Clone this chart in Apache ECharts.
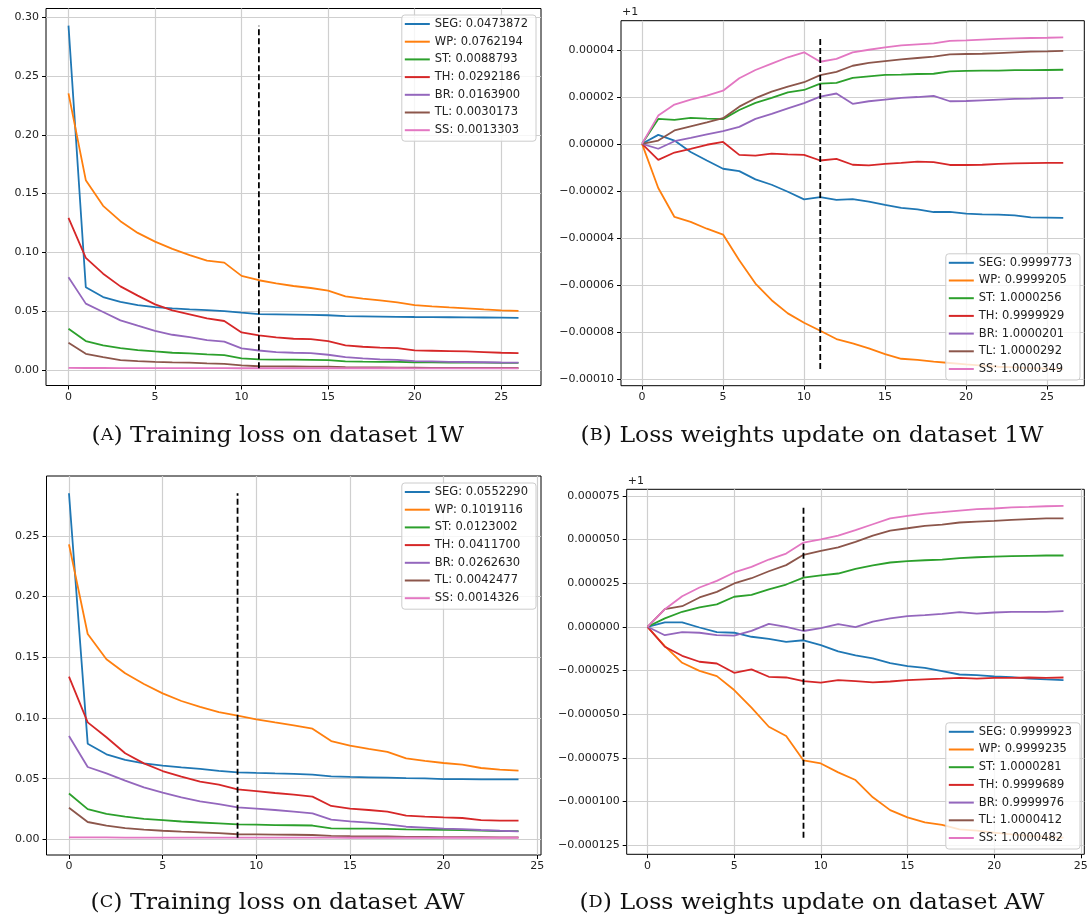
<!DOCTYPE html>
<html>
<head>
<meta charset="utf-8">
<title>Training loss and loss weights</title>
<script src="https://cdn.jsdelivr.net/npm/echarts@6/dist/echarts.min.js"></script>
<style>
  html, body { margin: 0; padding: 0; background: #fff; }
  #chart { width: 1087px; height: 923px; }
</style>
</head>
<body>
<div id="chart"></div>
<script>
// epochs
const epochs1W = [0, 1, 2, 3, 4, 5, 6, 7, 8, 9, 10, 11, 12, 13, 14, 15, 16, 17, 18, 19, 20, 21, 22, 23, 24, 25, 26];
const epochsAW = [0, 1, 2, 3, 4, 5, 6, 7, 8, 9, 10, 11, 12, 13, 14, 15, 16, 17, 18, 19, 20, 21, 22, 23, 24];
const switch1W = 11; // dashed line
const switchAW = 9;

const tasks = ['SEG', 'WP', 'ST', 'TH', 'BR', 'TL', 'SS'];
const colors = ['#1f77b4', '#ff7f0e', '#2ca02c', '#d62728', '#9467bd', '#8c564b', '#e377c2'];

// (A) training loss, dataset 1W
const lossSEG_1W = [0.2929, 0.0702, 0.0619, 0.0577, 0.0551, 0.0534, 0.0523, 0.0514, 0.0508, 0.0500, 0.0486, 0.0474, 0.0472, 0.0470, 0.0467, 0.0464, 0.0457, 0.0455, 0.0453, 0.0451, 0.0449, 0.0448, 0.0447, 0.0446, 0.0445, 0.0444, 0.0442];
const lossWP_1W  = [0.2353, 0.1614, 0.1395, 0.1265, 0.1165, 0.1091, 0.1029, 0.0975, 0.0929, 0.0912, 0.0799, 0.0762, 0.0736, 0.0713, 0.0696, 0.0673, 0.0625, 0.0605, 0.0591, 0.0574, 0.0551, 0.0540, 0.0531, 0.0523, 0.0514, 0.0506, 0.0501];
const lossST_1W  = [0.0350, 0.0244, 0.0207, 0.0185, 0.0168, 0.0156, 0.0145, 0.0139, 0.0131, 0.0125, 0.0097, 0.0089, 0.0087, 0.0086, 0.0084, 0.0082, 0.0071, 0.0069, 0.0068, 0.0067, 0.0064, 0.0063, 0.0062, 0.0061, 0.0060, 0.0059, 0.0058];
const lossTH_1W  = [0.1293, 0.0952, 0.0818, 0.0710, 0.0631, 0.0557, 0.0506, 0.0472, 0.0438, 0.0415, 0.0318, 0.0292, 0.0276, 0.0264, 0.0261, 0.0244, 0.0207, 0.0196, 0.0188, 0.0185, 0.0165, 0.0162, 0.0159, 0.0156, 0.0151, 0.0145, 0.0142];
const lossBR_1W  = [0.0787, 0.0563, 0.0492, 0.0420, 0.0375, 0.0332, 0.0298, 0.0278, 0.0253, 0.0239, 0.0182, 0.0164, 0.0151, 0.0145, 0.0142, 0.0128, 0.0108, 0.0097, 0.0088, 0.0085, 0.0074, 0.0071, 0.0068, 0.0066, 0.0064, 0.0062, 0.0061];
const lossTL_1W  = [0.0230, 0.0136, 0.0108, 0.0082, 0.0074, 0.0068, 0.0063, 0.0060, 0.0054, 0.0051, 0.0037, 0.0030, 0.0029, 0.0028, 0.0027, 0.0026, 0.0022, 0.0021, 0.0020, 0.0019, 0.0018, 0.0017, 0.0017, 0.0016, 0.0016, 0.0015, 0.0015];
const lossSS_1W  = [0.0016, 0.0015, 0.0015, 0.0014, 0.0014, 0.0014, 0.0014, 0.0014, 0.0014, 0.0014, 0.0013, 0.0013, 0.0013, 0.0013, 0.0013, 0.0013, 0.0013, 0.0013, 0.0013, 0.0013, 0.0012, 0.0012, 0.0012, 0.0012, 0.0012, 0.0012, 0.0012];
const legendLoss1W = ['SEG: 0.0473872', 'WP: 0.0762194', 'ST: 0.0088793', 'TH: 0.0292186', 'BR: 0.0163900', 'TL: 0.0030173', 'SS: 0.0013303'];

// (B) loss weights, dataset 1W -- (weight - 1) in units of 1e-6
const wSEG_1W = [0, 3.8, 1.4, -3.5, -7.1, -10.6, -11.6, -15.1, -17.4, -20.4, -23.6, -22.7, -23.8, -23.5, -24.6, -26.0, -27.2, -27.9, -29.0, -28.9, -29.7, -30.0, -30.1, -30.4, -31.3, -31.4, -31.5];
const wWP_1W  = [0, -18.8, -31.1, -33.2, -36.1, -38.6, -49.5, -59.4, -66.5, -72.1, -76.1, -79.5, -83.0, -84.9, -87.0, -89.4, -91.4, -91.9, -92.6, -93.2, -93.8, -94.3, -94.8, -95.1, -95.4, -95.6, -95.8];
const wST_1W  = [0, 10.6, 10.2, 11.0, 10.7, 10.5, 14.4, 17.4, 19.5, 21.9, 22.9, 25.6, 25.9, 28.0, 28.7, 29.3, 29.4, 29.7, 29.8, 30.8, 31.0, 31.1, 31.1, 31.3, 31.3, 31.4, 31.5];
const wTH_1W  = [0, -6.8, -3.7, -2.1, -0.4, 0.8, -4.7, -5.0, -4.2, -4.5, -4.7, -7.1, -6.4, -8.9, -9.2, -8.5, -8.1, -7.6, -7.8, -9.0, -9.0, -8.9, -8.5, -8.3, -8.2, -8.1, -8.1];
const wBR_1W  = [0, -2.1, 1.1, 2.5, 4.0, 5.4, 7.2, 10.6, 12.7, 15.1, 17.3, 20.1, 21.4, 17.0, 18.1, 18.8, 19.5, 19.9, 20.4, 18.1, 18.2, 18.5, 18.8, 19.1, 19.2, 19.4, 19.5];
const wTL_1W  = [0, 1.4, 5.7, 7.4, 9.1, 10.9, 15.8, 19.4, 22.2, 24.3, 26.2, 29.2, 30.6, 33.2, 34.4, 35.2, 35.9, 36.5, 37.1, 38.0, 38.2, 38.3, 38.6, 38.9, 39.2, 39.3, 39.5];
const wSS_1W  = [0, 12.0, 16.7, 18.8, 20.5, 22.6, 27.9, 31.4, 34.1, 36.8, 38.9, 34.9, 36.1, 38.9, 40.0, 41.0, 41.9, 42.3, 42.7, 43.8, 44.0, 44.3, 44.6, 44.8, 45.0, 45.1, 45.3];
const legendWeight1W = ['SEG: 0.9999773', 'WP: 0.9999205', 'ST: 1.0000256', 'TH: 0.9999929', 'BR: 1.0000201', 'TL: 1.0000292', 'SS: 1.0000349'];

// (C) training loss, dataset AW
const lossSEG_AW = [0.2852, 0.0788, 0.0701, 0.0654, 0.0626, 0.0607, 0.0593, 0.0580, 0.0565, 0.0552, 0.0547, 0.0543, 0.0540, 0.0533, 0.0519, 0.0514, 0.0511, 0.0508, 0.0505, 0.0503, 0.0497, 0.0496, 0.0495, 0.0495, 0.0494];
const lossWP_AW  = [0.2431, 0.1692, 0.1484, 0.1368, 0.1280, 0.1203, 0.1140, 0.1091, 0.1049, 0.1019, 0.0989, 0.0964, 0.0940, 0.0912, 0.0810, 0.0772, 0.0745, 0.0720, 0.0668, 0.0646, 0.0629, 0.0615, 0.0588, 0.0574, 0.0566];
const lossST_AW  = [0.0378, 0.0249, 0.0210, 0.0188, 0.0169, 0.0158, 0.0147, 0.0139, 0.0131, 0.0123, 0.0121, 0.0118, 0.0116, 0.0114, 0.0091, 0.0089, 0.0088, 0.0086, 0.0082, 0.0080, 0.0078, 0.0076, 0.0072, 0.0069, 0.0068];
const lossTH_AW  = [0.1341, 0.0964, 0.0841, 0.0709, 0.0626, 0.0563, 0.0516, 0.0475, 0.0451, 0.0412, 0.0398, 0.0382, 0.0368, 0.0352, 0.0275, 0.0253, 0.0242, 0.0228, 0.0195, 0.0187, 0.0181, 0.0176, 0.0159, 0.0154, 0.0154];
const lossBR_AW  = [0.0852, 0.0596, 0.0544, 0.0484, 0.0429, 0.0385, 0.0346, 0.0313, 0.0291, 0.0263, 0.0253, 0.0242, 0.0228, 0.0214, 0.0162, 0.0148, 0.0137, 0.0124, 0.0104, 0.0096, 0.0088, 0.0085, 0.0077, 0.0071, 0.0066];
const lossTL_AW  = [0.0261, 0.0143, 0.0113, 0.0093, 0.0080, 0.0071, 0.0063, 0.0058, 0.0052, 0.0042, 0.0041, 0.0039, 0.0038, 0.0036, 0.0028, 0.0026, 0.0025, 0.0024, 0.0021, 0.0020, 0.0019, 0.0019, 0.0018, 0.0017, 0.0017];
const lossSS_AW  = [0.0017, 0.0016, 0.0016, 0.0015, 0.0015, 0.0015, 0.0015, 0.0015, 0.0014, 0.0014, 0.0014, 0.0014, 0.0014, 0.0014, 0.0014, 0.0013, 0.0013, 0.0013, 0.0013, 0.0013, 0.0013, 0.0013, 0.0013, 0.0013, 0.0013];
const legendLossAW = ['SEG: 0.0552290', 'WP: 0.1019116', 'ST: 0.0123002', 'TH: 0.0411700', 'BR: 0.0262630', 'TL: 0.0042477', 'SS: 0.0014326'];

// (D) loss weights, dataset AW -- (weight - 1) in units of 1e-6
const wSEG_AW = [0, 2.5, 2.5, -0.4, -3.1, -3.4, -5.7, -6.9, -8.6, -7.7, -10.5, -14.1, -16.4, -18.1, -20.8, -22.5, -23.5, -25.4, -27.3, -27.6, -28.4, -28.8, -29.6, -30.1, -30.5];
const wWP_AW  = [0, -11.1, -20.6, -25.2, -28.2, -36.2, -46.3, -57.2, -62.5, -76.5, -78.2, -83.3, -87.7, -97.6, -104.9, -109.1, -111.9, -113.4, -115.9, -116.7, -117.8, -118.8, -119.6, -120.2, -120.7];
const wST_AW  = [0, 4.8, 8.6, 11.1, 12.8, 17.2, 18.3, 21.4, 24.2, 28.1, 29.4, 30.5, 33.2, 35.1, 36.8, 37.6, 38.1, 38.5, 39.3, 39.8, 40.2, 40.4, 40.6, 40.8, 40.8];
const wTH_AW  = [0, -11.4, -16.6, -20.0, -21.0, -26.3, -24.4, -28.6, -29.0, -31.1, -32.0, -30.5, -31.1, -31.8, -31.3, -30.5, -30.1, -29.7, -29.2, -29.6, -29.2, -29.2, -29.0, -29.2, -29.0];
const wBR_AW  = [0, -4.8, -3.1, -3.4, -4.8, -5.0, -2.3, 1.7, 0.0, -2.4, -0.8, 1.5, -0.2, 3.0, 4.8, 6.1, 6.7, 7.4, 8.4, 7.6, 8.2, 8.6, 8.6, 8.6, 9.0];
const wTL_AW  = [0, 10.1, 11.8, 16.8, 20.0, 24.8, 27.8, 31.8, 35.3, 41.2, 43.5, 45.4, 48.6, 52.2, 55.1, 56.4, 57.8, 58.5, 59.7, 60.2, 60.6, 61.2, 61.6, 62.0, 62.0];
const wSS_AW  = [0, 10.1, 17.5, 22.5, 26.3, 31.1, 34.3, 38.5, 41.9, 48.2, 50.0, 52.2, 55.3, 58.7, 62.0, 63.5, 64.8, 65.6, 66.5, 67.3, 67.7, 68.3, 68.6, 69.0, 69.2];
const legendWeightAW = ['SEG: 0.9999923', 'WP: 0.9999235', 'ST: 1.0000281', 'TH: 0.9999689', 'BR: 0.9999976', 'TL: 1.0000412', 'SS: 1.0000482'];

// ticks
const xTicks = [0, 5, 10, 15, 20, 25];
const yTicksLoss1W = [0, 0.05, 0.10, 0.15, 0.20, 0.25, 0.30];
const yTicksLossAW = [0, 0.05, 0.10, 0.15, 0.20, 0.25];
const yTicksWeight1W = [-100, -80, -60, -40, -20, 0, 20, 40];
const yTicksWeightAW = [-125, -100, -75, -50, -25, 0, 25, 50, 75];

const captionLetters = ['A', 'B', 'C', 'D'];
const captionTexts = [
  'Training loss on dataset 1W',
  'Loss weights update on dataset 1W',
  'Training loss on dataset AW',
  'Loss weights update on dataset AW'
];

const FONT = 'DejaVu Sans';
const SERIF = 'DejaVu Serif';
const minus = s => s.replace('-', '\u2212');

const panels = [
  {
    grid: { left: 46, top: 8.5, width: 495, height: 377 },
    epochs: epochs1W, lines: [lossSEG_1W, lossWP_1W, lossST_1W, lossTH_1W, lossBR_1W, lossTL_1W, lossSS_1W],
    labels: legendLoss1W, marker: switch1W, yTicks: yTicksLoss1W,
    fmt: v => v.toFixed(2), offset: false,
    legend: { right: 551, top: 15 },
    caption: { x: 277.7, y: 436 }
  },
  {
    grid: { left: 621, top: 20.7, width: 463.3, height: 365 },
    epochs: epochs1W, lines: [wSEG_1W, wWP_1W, wST_1W, wTH_1W, wBR_1W, wTL_1W, wSS_1W],
    labels: legendWeight1W, marker: switch1W, yTicks: yTicksWeight1W,
    fmt: v => minus((v * 1e-6).toFixed(5)), offset: true,
    legend: { right: 7, bottom: 543 },
    caption: { x: 812, y: 436 }
  },
  {
    grid: { left: 46.5, top: 476, width: 494.5, height: 379 },
    epochs: epochsAW, lines: [lossSEG_AW, lossWP_AW, lossST_AW, lossTH_AW, lossBR_AW, lossTL_AW, lossSS_AW],
    labels: legendLossAW, marker: switchAW, yTicks: yTicksLossAW,
    fmt: v => v.toFixed(2), offset: false,
    legend: { right: 551, top: 483 },
    caption: { x: 277.7, y: 903 }
  },
  {
    grid: { left: 626.7, top: 489.3, width: 457.6, height: 365 },
    epochs: epochsAW, lines: [wSEG_AW, wWP_AW, wST_AW, wTH_AW, wBR_AW, wTL_AW, wSS_AW],
    labels: legendWeightAW, marker: switchAW, yTicks: yTicksWeightAW,
    fmt: v => minus((v * 1e-6).toFixed(6)), offset: true,
    legend: { right: 7, bottom: 74 },
    caption: { x: 812, y: 903 }
  }
];

// matplotlib-like 5% margins
function padded(lo, hi) {
  const m = (hi - lo) * 0.05;
  return [lo - m, hi + m];
}

const option = {
  animation: false,
  backgroundColor: '#fff',
  grid: [], xAxis: [], yAxis: [], legend: [], series: [], graphic: []
};

panels.forEach((p, k) => {
  const all = [].concat(...p.lines);
  const yMin = Math.min(...all), yMax = Math.max(...all);
  const [xLo, xHi] = padded(p.epochs[0], p.epochs[p.epochs.length - 1]);
  const [yLo, yHi] = padded(yMin, yMax);

  option.grid.push(Object.assign({
    show: true, borderColor: '#000', borderWidth: 1, backgroundColor: '#fff',
    containLabel: false, outerBoundsMode: 'none'
  }, p.grid));

  option.xAxis.push({
    type: 'value', gridIndex: k, min: xLo, max: xHi,
    axisLine: { show: false, onZero: false },
    axisTick: { show: true, length: 4, lineStyle: { color: '#000', width: 1 }, customValues: xTicks },
    axisLabel: { margin: 6, color: '#222', fontFamily: FONT, fontSize: 11, customValues: xTicks, showMinLabel: true, showMaxLabel: true },
    splitLine: { show: true, lineStyle: { color: '#cfcfcf', width: 1.2 } }
  });

  option.yAxis.push({
    type: 'value', gridIndex: k, min: yLo, max: yHi,
    name: p.offset ? '+1' : '', nameLocation: 'end', nameGap: 3,
    nameTextStyle: { align: 'left', verticalAlign: 'bottom', color: '#222', fontFamily: FONT, fontSize: 11, padding: [0, 0, 0, 1] },
    axisLine: { show: false, onZero: false },
    axisTick: { show: true, length: 4, lineStyle: { color: '#000', width: 1 }, customValues: p.yTicks },
    axisLabel: { margin: 7, color: '#222', fontFamily: FONT, fontSize: 11, customValues: p.yTicks, formatter: p.fmt },
    splitLine: { show: true, lineStyle: { color: '#cfcfcf', width: 1.2 } }
  });

  p.lines.forEach((vals, i) => {
    option.series.push({
      type: 'line', name: p.labels[i], xAxisIndex: k, yAxisIndex: k,
      data: vals.map((v, j) => [p.epochs[j], v]),
      symbol: 'none', showSymbol: false,
      lineStyle: { color: colors[i], width: 1.8 },
      itemStyle: { color: colors[i] },
      z: 3
    });
  });

  // vertical dashed line at the switching epoch, spanning the data range
  option.series.push({
    type: 'line', name: 'switch' + k, xAxisIndex: k, yAxisIndex: k,
    data: [[p.marker, yMin], [p.marker, yMax]],
    symbol: 'none', showSymbol: false,
    lineStyle: { color: '#000', width: 1.8, type: [6, 3] },
    z: 4
  });

  option.legend.push(Object.assign({
    orient: 'vertical', data: p.labels, selectedMode: false,
    icon: 'rect', itemWidth: 25, itemHeight: 2, itemGap: 3.7,
    padding: [2, 8, 4, 3],
    backgroundColor: 'rgba(255,255,255,0.8)', borderColor: '#cccccc', borderWidth: 1, borderRadius: 3,
    textStyle: { fontFamily: FONT, fontSize: 11.5, color: '#222', lineHeight: 14 },
    z: 10
  }, p.legend));

  // caption below each panel; letter in small caps
  option.graphic.push({
    type: 'text', x: p.caption.x, y: p.caption.y, scaleX: 1.07, z: 10,
    style: {
      text: '{n|(}{s|' + captionLetters[k] + '}{n|) ' + captionTexts[k] + '}',
      align: 'center', verticalAlign: 'middle',
      fontFamily: SERIF, fontSize: 22, fill: '#111',
      rich: {
        n: { fontFamily: SERIF, fontSize: 22, fill: '#111' },
        s: { fontFamily: SERIF, fontSize: 16.5, fill: '#111' }
      }
    }
  });
});

const chart = echarts.init(document.getElementById('chart'));
chart.setOption(option);
</script>
</body>
</html>
